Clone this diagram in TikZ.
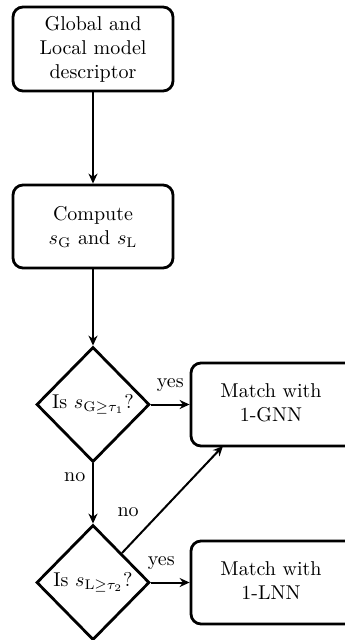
\documentclass[tikz,border=0pt]{standalone}
\usetikzlibrary{shapes.geometric,arrows.meta}
\begin{document}
\begin{tikzpicture}[x=0.5pt,y=-0.5pt,
  boxnode/.style={draw, line width=1.4pt, rounded corners=5pt, align=center,
    minimum width=80pt, minimum height=41.5pt, inner sep=2pt},
  widebox/.style={boxnode, minimum width=100pt},
  decision/.style={draw, diamond, line width=1.4pt, inner sep=0pt,
    minimum width=56.5pt, minimum height=57.5pt},
  flow/.style={line width=1pt, -{Stealth[length=5pt,width=4.5pt]}},
  lab/.style={inner sep=3.33pt}]
\useasboundingbox (0,0) rectangle (344,640);
\node[boxnode, minimum height=42pt] (desc) at (93,49) {Global and\\Local model\\descriptor};
\node[boxnode] (comp) at (93,226.5) {Compute\\$s_{\mathrm{G}}$ and $s_{\mathrm{L}}$};
\node[decision] (d1) at (93,404.5) {Is $s_{\mathrm{G}\geq\tau_1}$?};
\node[decision] (d2) at (93,582.5) {Is $s_{\mathrm{L}\geq\tau_2}$?};
\node[widebox] (gnn) at (291,404.5) {\begin{tabular}{@{}c@{}}Match with\\1-GNN\end{tabular}\hspace*{20pt}};
\node[widebox] (lnn) at (291,582.5) {\begin{tabular}{@{}c@{}}Match with\\1-LNN\end{tabular}\hspace*{20pt}};
\coordinate (gnnin) at (223,446);
\draw[flow] (desc) -- (comp);
\draw[flow] (comp) -- (d1);
\draw[flow] (d1) -- node[lab, above, yshift=2.5pt] {yes} (gnn);
\draw[flow] (d1) -- node[lab, pos=0.23, left] {no} (d2);
\draw[flow] (d2.north east) -- node[lab, pos=0.38, left, xshift=-7pt] {no} (gnnin);
\draw[flow] (d2) -- node[lab, pos=0.27, above, yshift=2.5pt] {yes} (lnn);
\end{tikzpicture}
\end{document}
